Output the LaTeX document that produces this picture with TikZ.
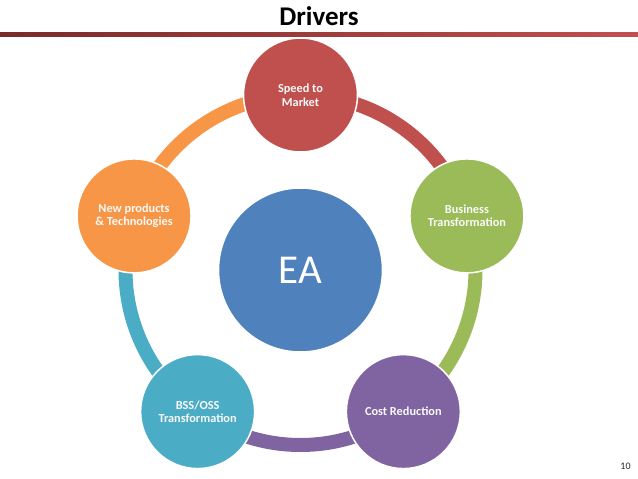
\documentclass[tikz,border=0pt]{standalone}
\usepackage{fontspec}
\setmainfont{Carlito}
\usetikzlibrary{calc}
\definecolor{cRed}{HTML}{C0504D}
\definecolor{cGreen}{HTML}{9BBB59}
\definecolor{cPurple}{HTML}{8064A2}
\definecolor{cTeal}{HTML}{4BACC6}
\definecolor{cOrange}{HTML}{F79646}
\definecolor{cBlue}{HTML}{4F81BD}
\definecolor{cDark}{HTML}{7A2A2A}
\begin{document}
\begin{tikzpicture}[x=1pt,y=1pt,
  driver/.style={circle, draw=white, line width=1.5pt, minimum size=114pt, inner sep=0pt,
    text=white!95!gray, align=center, font=\fontsize{12.3}{13.6}\selectfont\bfseries},
  hub/.style={circle, draw=white, line width=1.5pt, minimum size=164pt, inner sep=0pt,
    fill=cBlue, text=white, font=\fontsize{41}{45}\selectfont},
  ring/.style={line width=14pt}]
\useasboundingbox (0,0) rectangle (638,-479);
\fill[left color=cDark, right color=cRed] (0,-32) rectangle (638,-36.5);
\node[anchor=base, font=\fontsize{27}{30}\selectfont\bfseries] (title) at (319,-26) {Drivers};
\coordinate (c) at (300.5,-270);
\draw[ring, cRed]    (c) ++(90:175)  arc[start angle=90,  end angle=18,   radius=175];
\draw[ring, cGreen]  (c) ++(18:175)  arc[start angle=18,  end angle=-54,  radius=175];
\draw[ring, cPurple] (c) ++(-54:175) arc[start angle=-54, end angle=-126, radius=175];
\draw[ring, cTeal]   (c) ++(-126:175) arc[start angle=-126, end angle=-198, radius=175];
\draw[ring, cOrange] (c) ++(162:175) arc[start angle=162, end angle=90,  radius=175];
\node[driver, fill=cRed]    (speed) at ($(c)+(90:175)$) {Speed to\\Market};
\node[driver, fill=cGreen]  (bus)   at ($(c)+(18:175)$) {Business\\Transformation};
\node[driver, fill=cPurple] (cost)  at ($(c)+(-54:175)$) {Cost Reduction};
\node[driver, fill=cTeal]   (bss)   at ($(c)+(-126:175)$) {BSS/OSS\\Transformation};
\node[driver, fill=cOrange] (newp)  at ($(c)+(162:175)$) {New products\\\& Technologies};
\node[hub] (ea) at (c) {EA};
\node[font=\fontsize{10}{12}\selectfont, text=black!85] (page) at (625.5,-466) {10};
\end{tikzpicture}
\end{document}
